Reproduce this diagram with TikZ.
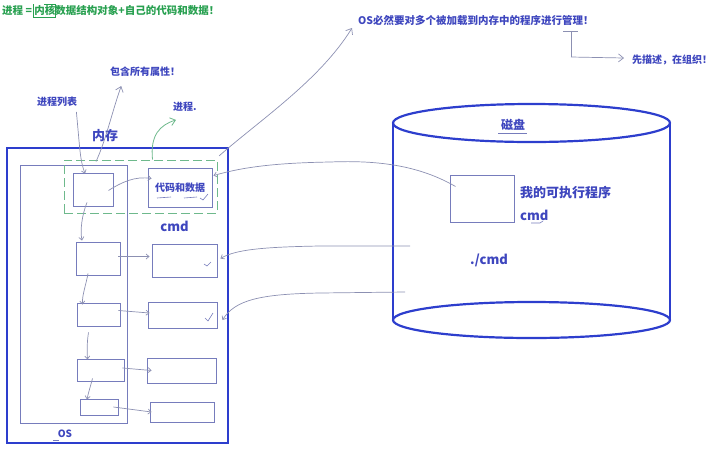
\documentclass[tikz,border=0pt]{standalone}
\usepackage{fontspec}
\setmainfont{Noto Sans CJK SC}
\usetikzlibrary{arrows.meta,calc}
\definecolor{tblue}{RGB}{62,70,190}
\definecolor{bblue}{RGB}{45,62,205}
\definecolor{lblue}{RGB}{118,124,188}
\definecolor{tgreen}{RGB}{40,160,80}
\definecolor{dgreen}{RGB}{110,185,140}
\definecolor{gline}{RGB}{140,144,178}
\tikzset{
  pbox/.style={draw=lblue, line width=0.9pt, inner sep=0pt},
  lbl/.style={text=tblue, inner sep=0pt, font=\bfseries\fontsize{10}{12}\selectfont},
  big/.style={text=tblue, inner sep=0pt, font=\bfseries\fontsize{13}{15}\selectfont},
  conn/.style={draw=gline, line width=0.7pt},
  harrow/.style={conn, -{Straight Barb[length=3pt,width=5pt]}},
  oarrow/.style={conn, -{Straight Barb[length=5pt,width=8pt]}},
}
\begin{document}
\begin{tikzpicture}[x=1pt,y=-1pt]
\useasboundingbox (0,0) rectangle (713,451);
% ---- titles ----
\node[anchor=west, inner sep=0pt, text=tgreen, font=\bfseries\fontsize{10.5}{12}\selectfont] (title) at (2,10) {进程 = 内核数据结构对象+自己的代码和数据！};
\draw[tgreen, line width=0.6pt] (33,4) -- (33,17) -- (55,17) -- (55,4) -- (44,4);
\node[anchor=west, lbl, font=\bfseries\fontsize{10.5}{12}\selectfont] (osmgr) at (358,20) {OS必然要对多个被加载到内存中的程序进行管理！};
\node[anchor=west, lbl] (desc) at (632,60) {先描述，在组织！};
\node[anchor=west, lbl] (attr) at (110,72) {包含所有属性！};
\node[anchor=west, lbl] (plist) at (37,102) {进程列表};
\node[anchor=west, lbl] (proc) at (173,107) {进程.};
\node[big] (mem) at (105,136) {内存};
% ---- memory ----
\node[draw=bblue, line width=2.4pt, minimum width=221pt, minimum height=295pt, inner sep=0pt] (membox) at (117.5,295.5) {};
\node[draw=lblue, line width=0.8pt, minimum width=107pt, minimum height=258pt, inner sep=0pt] (osbox) at (73.5,294) {};
\node[draw=dgreen, line width=1pt, dash pattern=on 9pt off 4pt, minimum width=153pt, minimum height=53pt, inner sep=0pt] (grp) at (140.5,186.5) {};
\node[lbl] (osl) at (65,434) {OS};
\draw[lblue, line width=0.6pt] (53,440) -- (59,440);
% PCBs
\node[pbox, minimum width=40pt, minimum height=33pt] (p1) at (93,189.5) {};
\node[pbox, minimum width=44pt, minimum height=33pt] (p2) at (98,258.5) {};
\node[pbox, minimum width=43pt, minimum height=23pt] (p3) at (98.5,314.5) {};
\node[pbox, minimum width=47pt, minimum height=22pt] (p4) at (100.5,370) {};
\node[pbox, minimum width=38pt, minimum height=16pt] (p5) at (99,407) {};
% code boxes
\node[pbox, minimum width=64pt, minimum height=39pt] (c1) at (180,187.5) {};
\node[lbl] (c1t) at (180,188) {代码和数据};
\node[pbox, minimum width=65pt, minimum height=33pt] (c2) at (184.5,260.5) {};
\node[pbox, minimum width=69pt, minimum height=26pt] (c3) at (182.5,315) {};
\node[pbox, minimum width=69pt, minimum height=25pt] (c4) at (181.5,370.5) {};
\node[pbox, minimum width=64pt, minimum height=20pt] (c5) at (182,412) {};
\node[big] (cmdm) at (174.5,226) {cmd};
% small hand marks
\draw[lblue, line width=0.6pt] (157,198) -- (171,197) (184,198) -- (197,197);
\draw[lblue, line width=0.6pt] (200,198) -- (203,200) -- (208,194);
\draw[lblue, line width=0.6pt] (204,264) -- (207,266) -- (211,262);
\draw[lblue, line width=0.6pt] (205,318) -- (208,321) -- (213,313);
% ---- disk ----
\draw[bblue, line width=2.2pt] (393,123) -- (393,320);
\draw[bblue, line width=2.2pt] (670,123) -- (670,320);
\draw[bblue, line width=2.2pt] (531.5,123) ellipse [x radius=138.5pt, y radius=19pt];
\draw[bblue, line width=2.2pt] (531.5,320) ellipse [x radius=138.5pt, y radius=18pt];
\node[lbl, font=\bfseries\fontsize{12}{14}\selectfont] (disk) at (513,125) {磁盘};
\draw[lblue, line width=0.6pt] (498,133) -- (527,133);
\node[pbox, minimum width=64pt, minimum height=47pt] (exe) at (482,198.5) {};
\node[anchor=west, big] (exet) at (520,193) {我的可执行程序};
\node[anchor=west, big] (cmdd) at (520,215) {cmd};
\draw[lblue, line width=0.6pt] (531,223) -- (540,223) -- (543,221);
\node[anchor=west, big] (run) at (470,260) {./cmd};
\coordinate (d2) at (410,246);
\coordinate (d3) at (405,292);
% ---- connectors ----
\draw[oarrow] ($(membox.north east)+(-10,9)$) .. controls (260,120) and (320,80) .. ($(osmgr.west)+(-6,8)$);
\draw[conn] (563,31) -- (578,31) (571,31) -- (571,57);
\draw[oarrow] (571,57) -- ($(desc.west)+(-8,-2)$);
\draw[oarrow] ($(p1.north)+(3,-11)$) .. controls (106,140) and (112,112) .. ($(attr.south)+(-24,9)$);
\draw[harrow] ($(plist.south east)+(-1,5)$) .. controls (80,150) and (80,160) .. ($(p1.north)+(-8,1)$);
\draw[dgreen, line width=0.8pt, -{Straight Barb[length=5pt,width=8pt]}] (grp.north) ++(12,0) .. controls (150,135) and (160,125) .. ($(proc.south west)+(3,8)$);
\draw[harrow] ($(p1.east)+(-5,1)$) .. controls (122,182) and (135,176) .. ($(c1.west)+(4,-9)$);
\draw[harrow] ($(p1.south)+(-6,-4)$) .. controls (82,215) and (80,230) .. ($(p2.north)+(-16,-1)$);
\draw[harrow] ($(p2.south)+(-10,-2)$) .. controls (86,285) and (82,295) .. ($(p3.north)+(-16,2)$);
\draw[harrow] ($(p3.south)+(-10,6)$) .. controls (87,342) and (87,350) .. ($(p4.north)+(-13,1)$);
\draw[harrow] ($(p4.south)+(-8,-3)$) .. controls (90,388) and (88,394) .. ($(p5.north)+(-12,1)$);
\draw[harrow] ($(p2.east)+(-2,-2)$) -- ($(c2.west)+(-2,-4)$);
\draw[harrow] ($(p3.east)+(-2,-4)$) -- ($(c3.west)+(2,-2)$);
\draw[harrow] ($(p4.east)+(-2,-2)$) -- ($(c4.west)+(5,0)$);
\draw[harrow] ($(p5.east)+(-5,0)$) -- ($(c5.west)+(2,0)$);
\draw[harrow] ($(exe.west)+(6,-12)$) .. controls (420,166) and (380,160) .. (330,162) .. controls (270,163) and (240,168) .. ($(c1.north east)+(1,8)$);
\draw[harrow] (d2) -- (320,246) .. controls (260,247) and (235,250) .. ($(c2.east)+(3,-2)$);
\draw[harrow] (d3) -- (320,293) .. controls (260,294) and (235,300) .. ($(c3.east)+(5,5)$);
\end{tikzpicture}
\end{document}
